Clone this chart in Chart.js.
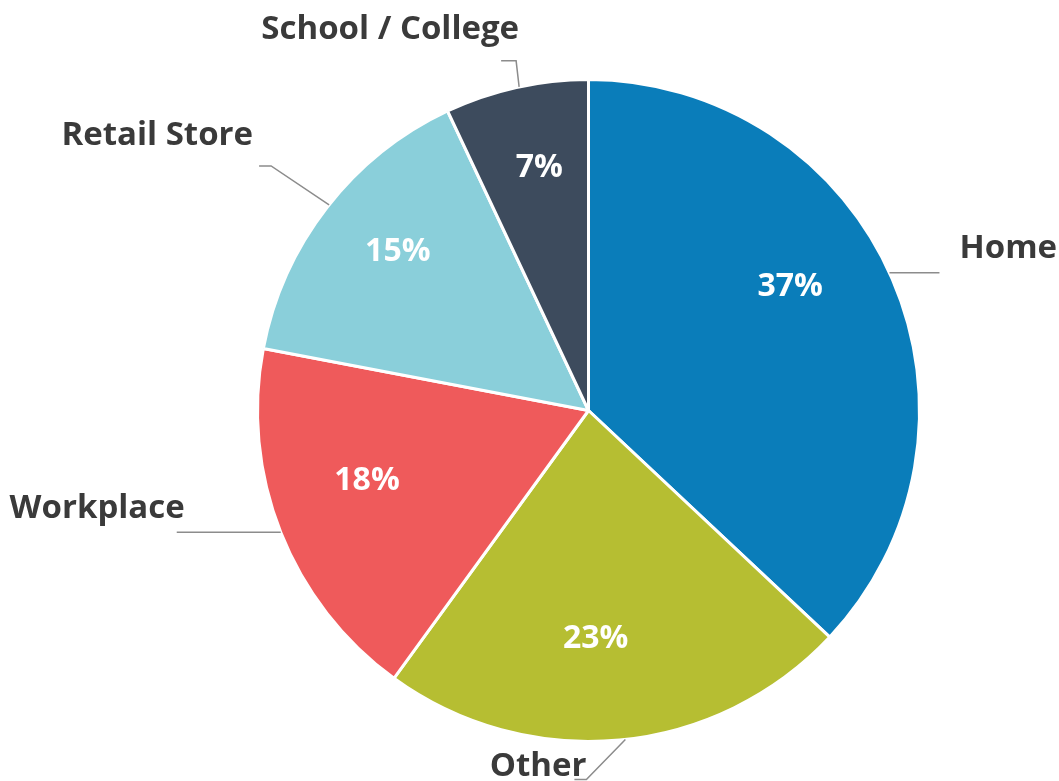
<!DOCTYPE html>
<html>
<head>
<meta charset="utf-8">
<script src="https://cdn.jsdelivr.net/npm/chart.js@4.4.1/dist/chart.umd.min.js"></script>
<style>
    html, body { margin: 0; padding: 0; background: #ffffff; }
    #wrap { width: 1059px; height: 781px; }
</style>
</head>
<body>
<div id="wrap"><canvas id="pieChart" width="1059" height="781"></canvas></div>
<script>
const categories = ["Home", "Other", "Workplace", "Retail Store", "School / College"];
const shares = [37, 23, 18, 15, 7];
const sliceColors = ["#0a7dba", "#b6be32", "#ef5a5b", "#8acfda", "#3d4b5d"];

// label styling per slice: anchor shift on the arc (deg), elbow, run, text offset, percent offset
const leaders = [
    { shift: -1.2, elbow: [0, 0], run: 50, text: [20, -24], align: "left", pct: [-14, -30] },
    { shift: -1.0, elbow: [-39, 40], run: -12, text: [12, -13], align: "right", pct: [-15, -6] },
    { shift: 0, elbow: [0, 0], run: -104, text: [8, -24], align: "right", pct: [-3, -16] },
    { shift: 0.6, elbow: [-58, -39], run: -12, text: [-6, -30], align: "right", pct: [-5, -15] },
    { shift: 0.5, elbow: [-3, -26], run: -15, text: [18, -31], align: "right", pct: [2, -13] }
];

const labelPlugin = {
    id: "pieLabels",
    afterDatasetsDraw(chart) {
        const ctx = chart.ctx;
        const arcs = chart.getDatasetMeta(0).data;
        ctx.save();
        arcs.forEach((arc, i) => {
            const { x, y, startAngle, endAngle, outerRadius } = arc.getProps(["x", "y", "startAngle", "endAngle", "outerRadius"], true);
            const lead = leaders[i];
            const mid = (startAngle + endAngle) / 2;

            // percent inside
            const r = outerRadius * 0.71;
            ctx.fillStyle = "#ffffff";
            ctx.font = "bold 32px 'Open Sans'";
            ctx.textAlign = "center";
            ctx.textBaseline = "middle";
            ctx.fillText(shares[i] + "%", x + Math.cos(mid) * r + lead.pct[0], y + Math.sin(mid) * r + lead.pct[1]);

            // leader line
            const a = mid + lead.shift * Math.PI / 180;
            const px = x + Math.cos(a) * outerRadius;
            const py = y + Math.sin(a) * outerRadius;
            const ex = px + lead.elbow[0];
            const ey = py + lead.elbow[1];
            const fx = ex + lead.run;
            ctx.strokeStyle = "#8c8c8c";
            ctx.lineWidth = 1.5;
            ctx.beginPath();
            ctx.moveTo(px, py);
            ctx.lineTo(ex, ey);
            ctx.lineTo(fx, ey);
            ctx.stroke();

            ctx.fillStyle = "#3a3a3a";
            ctx.font = "bold 33px 'Open Sans'";
            ctx.textAlign = lead.align;
            ctx.fillText(categories[i], fx + lead.text[0], ey + lead.text[1]);
        });
        ctx.restore();
    }
};

new Chart(document.getElementById("pieChart").getContext("2d"), {
    type: "pie",
    data: {
        labels: categories,
        datasets: [{
            data: shares,
            backgroundColor: sliceColors,
            borderColor: "#ffffff",
            borderWidth: 3
        }]
    },
    options: {
        responsive: false,
        animation: false,
        layout: { padding: { left: 256, right: 138, top: 78, bottom: 38 } },
        plugins: {
            legend: { display: false },
            tooltip: { enabled: false }
        }
    },
    plugins: [labelPlugin]
});
</script>
</body>
</html>
